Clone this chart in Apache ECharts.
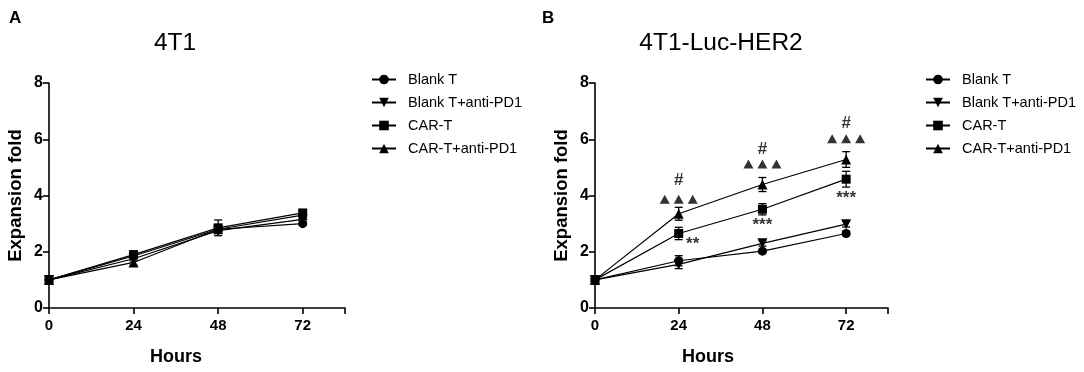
<!DOCTYPE html>
<html><head><meta charset="utf-8">
<script src="https://cdn.jsdelivr.net/npm/echarts@6/dist/echarts.min.js"></script>
<style>html,body{margin:0;padding:0;background:#fff}#c{width:1084px;height:372px}</style>
</head><body><div id="c"></div>
<script>
var hours = [0, 24, 48, 72];
var seriesNames = ['Blank T', 'Blank T+anti-PD1', 'CAR-T', 'CAR-T+anti-PD1'];
var yTicks = [0, 2, 4, 6, 8];
// Panel A (4T1)
var a_blankT = [1, 1.85, 2.8, 3.0];
var a_blankTPD1 = [1, 1.75, 2.75, 3.15];
var a_carT = [1, 1.9, 2.85, 3.38];
var a_carTPD1 = [1, 1.62, 2.8, 3.3];
var a_err_blankT = [0, 0.08, 0.08, 0.06];
var a_err_blankTPD1 = [0, 0.08, 0.1, 0.08];
var a_err_carT = [0, 0.1, 0.28, 0.08];
var a_err_carTPD1 = [0, 0.1, 0.1, 0.08];
// Panel B (4T1-Luc-HER2)
var b_blankT = [1, 1.68, 2.02, 2.65];
var b_blankTPD1 = [1, 1.55, 2.3, 2.98];
var b_carT = [1, 2.65, 3.51, 4.58];
var b_carTPD1 = [1, 3.35, 4.39, 5.28];
var b_err_blankT = [0, 0.18, 0.06, 0.08];
var b_err_blankTPD1 = [0, 0.15, 0.1, 0.1];
var b_err_carT = [0, 0.22, 0.2, 0.28];
var b_err_carTPD1 = [0, 0.23, 0.25, 0.28];
// Significance annotations in panel B: [hours, y, text]
var b_textMarks = [
  [24, 4.55, '#'], [28, 2.25, '**'],
  [48, 5.65, '#'], [48, 2.95, '***'],
  [72, 6.57, '#'], [72, 3.9, '***']
];
// "▲▲▲" marks (vs Blank T+anti-PD1): [hours, y]
var b_triMarks = [[24, 3.87], [48, 5.12], [72, 6.02]];

var FONT = 'Liberation Sans';
var symbols = ['circle', 'path://M0,0 L10,0 L5,9 Z', 'rect', 'triangle'];
var symSizes = [9, 10, 9, 10];

function pairs(vals) { return hours.map(function (h, i) { return [h, vals[i]]; }); }

function lineSeries(idx, vals, gi) {
  return {
    type: 'line', name: seriesNames[idx], xAxisIndex: gi, yAxisIndex: gi,
    data: pairs(vals), symbol: symbols[idx], symbolSize: symSizes[idx],
    showSymbol: true, z: 5,
    lineStyle: { color: '#000', width: 1.2 },
    itemStyle: { color: '#000' }, animation: false
  };
}
function errSeries(vals, errs, gi) {
  var d = hours.map(function (h, i) { return [h, vals[i] - errs[i], vals[i] + errs[i]]; });
  return {
    type: 'custom', xAxisIndex: gi, yAxisIndex: gi, data: d, z: 4, silent: true,
    encode: { x: 0, y: [1, 2] },
    renderItem: function (params, api) {
      var x = api.value(0);
      if (api.value(2) - api.value(1) < 1e-6) return;
      var lo = api.coord([x, api.value(1)]);
      var hi = api.coord([x, api.value(2)]);
      var w = 4;
      var st = { stroke: '#000', lineWidth: 1.3 };
      return { type: 'group', children: [
        { type: 'line', shape: { x1: lo[0], y1: lo[1], x2: hi[0], y2: hi[1] }, style: st },
        { type: 'line', shape: { x1: lo[0] - w, y1: lo[1], x2: lo[0] + w, y2: lo[1] }, style: st },
        { type: 'line', shape: { x1: hi[0] - w, y1: hi[1], x2: hi[0] + w, y2: hi[1] }, style: st }
      ]};
    }, animation: false
  };
}

function xAx(gi) {
  return {
    type: 'value', gridIndex: gi, min: 0, max: 84, interval: 24,
    axisLine: { show: true, lineStyle: { color: '#000', width: 1.6 } },
    axisTick: { show: true, length: 6, lineStyle: { color: '#000', width: 1.6 } },
    splitLine: { show: false },
    axisLabel: { color: '#000', fontFamily: FONT, fontWeight: 'bold', fontSize: 15, margin: 10,
      formatter: function (v) { return v <= 72 ? String(v) : ''; } }
  };
}
function yAx(gi) {
  return {
    type: 'value', gridIndex: gi, min: 0, max: 8, interval: 2,
    axisLine: { show: true, lineStyle: { color: '#000', width: 1.6 } },
    axisTick: { show: true, length: 6, lineStyle: { color: '#000', width: 1.6 } },
    splitLine: { show: false },
    axisLabel: { color: '#000', fontFamily: FONT, fontWeight: 'bold', fontSize: 16, margin: 6,
      formatter: function (v) { return yTicks.indexOf(v) >= 0 ? String(v) : ''; } },
    name: 'Expansion fold', nameLocation: 'middle', nameGap: 24,
    nameTextStyle: { color: '#000', fontFamily: FONT, fontWeight: 'bold', fontSize: 18.5 }
  };
}
function legend(left) {
  return {
    orient: 'vertical', left: left, top: 67, itemWidth: 24, itemHeight: 12, itemGap: 8,
    data: seriesNames, selectedMode: false,
    textStyle: { color: '#000', fontFamily: FONT, fontSize: 14.5, padding: [0, 0, 0, 7] }
  };
}

var series = [];
var aVals = [a_blankT, a_blankTPD1, a_carT, a_carTPD1];
var aErrs = [a_err_blankT, a_err_blankTPD1, a_err_carT, a_err_carTPD1];
var bVals = [b_blankT, b_blankTPD1, b_carT, b_carTPD1];
var bErrs = [b_err_blankT, b_err_blankTPD1, b_err_carT, b_err_carTPD1];
for (var i = 0; i < 4; i++) {
  series.push(errSeries(aVals[i], aErrs[i], 0));
  series.push(lineSeries(i, aVals[i], 0));
  series.push(errSeries(bVals[i], bErrs[i], 1));
  series.push(lineSeries(i, bVals[i], 1));
}
series.push({
  type: 'scatter', xAxisIndex: 1, yAxisIndex: 1, symbolSize: 0, silent: true,
  data: b_textMarks.map(function (a) { return { value: [a[0], a[1]], label: { formatter: a[2] } }; }),
  label: { show: true, position: 'inside', color: '#000', fontFamily: FONT, fontSize: 17, fontWeight: 'bold' },
  animation: false
});
var triData = [];
b_triMarks.forEach(function (t) {
  [-14, 0, 14].forEach(function (off) {
    triData.push({ value: [t[0], t[1]], symbolOffset: [off, 0] });
  });
});
series.push({
  type: 'scatter', xAxisIndex: 1, yAxisIndex: 1, symbol: 'triangle', symbolSize: [10, 9],
  silent: true, itemStyle: { color: '#000' }, data: triData, animation: false
});

var chart = echarts.init(document.getElementById('c'), null, { renderer: 'canvas' });
chart.setOption({
  backgroundColor: '#fff',
  animation: false,
  title: [
    { text: 'A', left: 4, top: 5, textStyle: { fontFamily: FONT, fontWeight: 'bold', fontSize: 17, color: '#000' } },
    { text: 'B', left: 537, top: 5, textStyle: { fontFamily: FONT, fontWeight: 'bold', fontSize: 17, color: '#000' } },
    { text: '4T1', left: 170, top: 26, textAlign: 'center', textStyle: { fontFamily: FONT, fontWeight: 'normal', fontSize: 24.5, color: '#000' } },
    { text: '4T1-Luc-HER2', left: 716, top: 26, textAlign: 'center', textStyle: { fontFamily: FONT, fontWeight: 'normal', fontSize: 24.5, color: '#000' } }
  ],
  graphic: [
    { type: 'text', left: 150, top: 348, style: { text: 'Hours', fontFamily: FONT, fontWeight: 'bold', fontSize: 18, fill: '#000' } },
    { type: 'text', left: 682, top: 348, style: { text: 'Hours', fontFamily: FONT, fontWeight: 'bold', fontSize: 18, fill: '#000' } }
  ],
  legend: [legend(366), legend(920)],
  grid: [
    { left: 49, top: 83, width: 296, height: 225 },
    { left: 595, top: 83, width: 293, height: 225 }
  ],
  xAxis: [xAx(0), xAx(1)],
  yAxis: [yAx(0), yAx(1)],
  series: series
});
</script></body></html>
